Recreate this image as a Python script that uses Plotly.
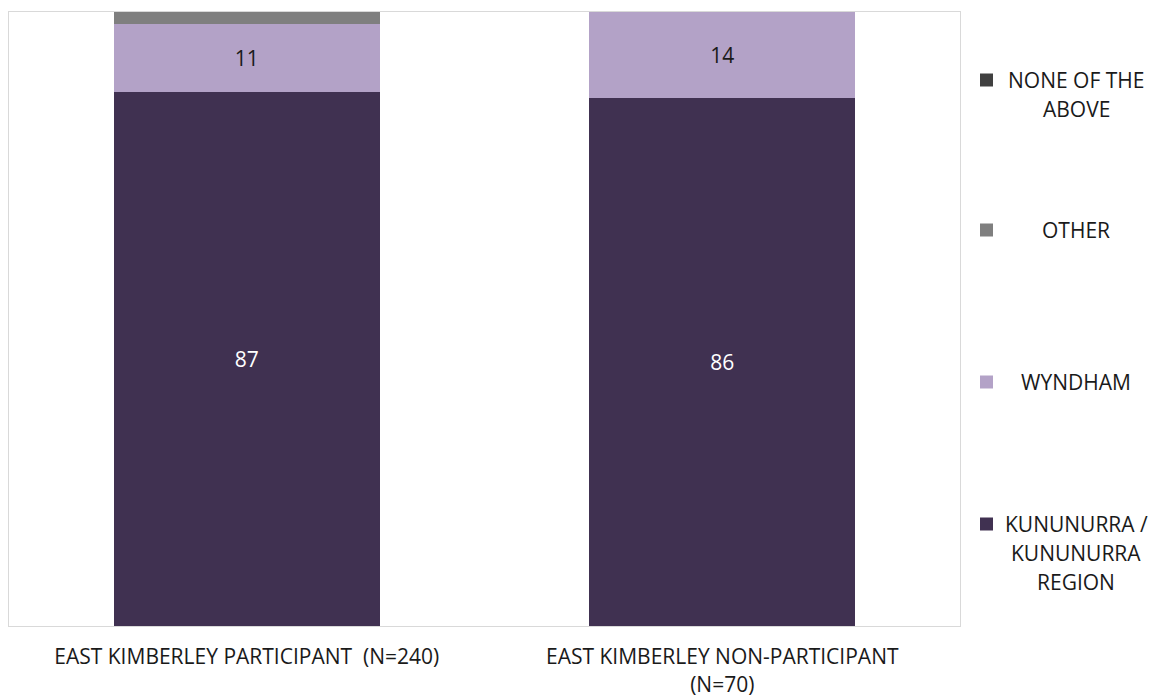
import plotly.graph_objects as go

# survey groups (x axis)
groups = ["EAST KIMBERLEY PARTICIPANT  (N=240)", "EAST KIMBERLEY NON-PARTICIPANT<br>(N=70)"]

# series, bottom of the stack first
series_names = ["KUNUNURRA / KUNUNURRA REGION", "WYNDHAM", "OTHER", "NONE OF THE ABOVE"]
kununurra = [87, 86]
wyndham = [11, 14]
other = [2, 0]
none_above = [0, 0]

# legend text as it wraps in the original
legend_lines = [
    ["NONE OF THE", "ABOVE"],
    ["OTHER"],
    ["WYNDHAM"],
    ["KUNUNURRA /", "KUNUNURRA", "REGION"],
]

colors = ["#403151", "#b3a2c7", "#7f7f7f", "#404040"]
label_colors = ["#ffffff", "#1a1a1a", "#ffffff", "#ffffff"]
FONT = "Open Sans"
TXT = "#1a1a1a"

# page body adds ~8px margin, so work in page pixels minus 8
OFF = 8
W, H = 1162 - 2 * OFF, 698 - OFF
L, R, T, B = 9 - OFF, 960 - OFF, 12 - OFF, 626 - OFF  # plot area in figure pixels

fig = go.Figure()
for name, vals, col, lc in zip(series_names, [kununurra, wyndham, other, none_above], colors, label_colors):
    fig.add_trace(go.Bar(
        x=groups, y=vals, name=name,
        marker=dict(color=col, line=dict(width=0)),
        text=[str(v) if v >= 5 else "" for v in vals],
        textposition="inside", insidetextanchor="middle", textangle=0,
        textfont=dict(family=FONT, size=21, color=lc),
        showlegend=False,
    ))

def px_x(x):
    return (x - OFF - L) / (R - L)

def px_y(y):
    return (B - (y - OFF)) / (B - T)

# hand-built legend to keep the centred, wrapped text (page pixel positions)
first_line_y = [80, 230, 382, 524]
line_gap = 29
for lines, y0, col in zip(legend_lines, first_line_y, colors[::-1]):
    fig.add_shape(type="rect", xref="paper", yref="paper",
                  x0=px_x(980), x1=px_x(993), y0=px_y(y0 + 6.5), y1=px_y(y0 - 6.5),
                  fillcolor=col, line=dict(width=0))
    for i, txt in enumerate(lines):
        fig.add_annotation(xref="paper", yref="paper", x=px_x(1076), y=px_y(y0 + i * line_gap),
                           text=txt, showarrow=False, xanchor="center", yanchor="middle",
                           font=dict(family=FONT, size=21, color=TXT))

fig.update_layout(
    barmode="stack", bargap=0.44,
    width=W, height=H,
    margin=dict(l=L, r=W - R, t=T, b=H - B),
    plot_bgcolor="white", paper_bgcolor="white",
    font=dict(family=FONT, size=21, color=TXT),
)
fig.update_xaxes(showline=True, mirror=True, linecolor="#d9d9d9", linewidth=1,
                 ticks="", ticklabelstandoff=12, showgrid=False,
                 tickfont=dict(family=FONT, size=21, color=TXT))
fig.update_yaxes(range=[0, 100], showline=True, mirror=True, linecolor="#d9d9d9", linewidth=1,
                 showticklabels=False, showgrid=False, zeroline=False, ticks="")

fig.write_html("out.html")
